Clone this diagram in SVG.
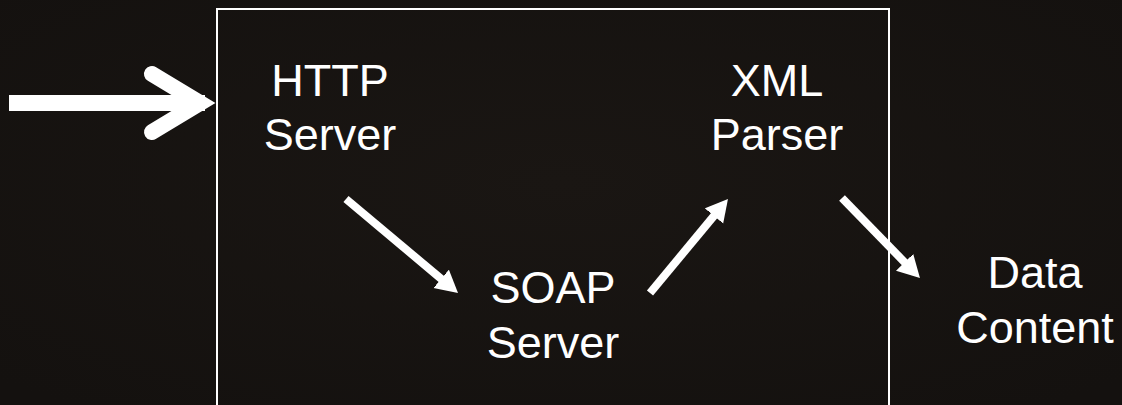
<svg xmlns="http://www.w3.org/2000/svg" width="1122" height="405" viewBox="0 0 1122 405">
  <defs>
    <style>
      .lbl { font-family: "Liberation Sans", Arial, sans-serif; font-size: 45px; fill: #ffffff; text-anchor: middle; }
      .conn { stroke: #ffffff; stroke-width: 8; fill: none; stroke-linecap: butt; }
    </style>
    <marker id="head" markerUnits="userSpaceOnUse" markerWidth="26" markerHeight="26" refX="2" refY="12" orient="auto">
      <path d="M0,0 L22,12 L0,24 z" fill="#ffffff"/>
    </marker>
    <radialGradient id="bg" cx="50%" cy="45%" r="70%">
      <stop offset="0" stop-color="#1a1613"/>
      <stop offset="1" stop-color="#14110f"/>
    </radialGradient>
  </defs>
  <rect x="0" y="0" width="1122" height="405" fill="url(#bg)"/>

  <g id="frame">
    <rect x="217" y="9" width="672" height="420" fill="none" stroke="#ffffff" stroke-width="2"/>
  </g>

  <g id="connectors">
    <g id="input-arrow" stroke="#ffffff" fill="none" stroke-width="16">
      <line x1="9" y1="103" x2="205" y2="103" stroke-linecap="butt"/>
      <polyline points="152,74 200,103 152,132" stroke-linejoin="miter" stroke-linecap="round"/>
    </g>
    <line class="conn" x1="346" y1="199" x2="442.7" y2="280.1" marker-end="url(#head)"/>
    <line class="conn" x1="650" y1="293" x2="715.2" y2="214.4" marker-end="url(#head)"/>
    <line class="conn" x1="842" y1="198" x2="906" y2="263.7" marker-end="url(#head)"/>
  </g>

  <g id="http-server">
    <text class="lbl" x="330" y="96">HTTP</text>
    <text class="lbl" x="330" y="150">Server</text>
  </g>
  <g id="xml-parser">
    <text class="lbl" x="777" y="96">XML</text>
    <text class="lbl" x="777" y="150">Parser</text>
  </g>
  <g id="soap-server">
    <text class="lbl" x="553" y="303">SOAP</text>
    <text class="lbl" x="553" y="358">Server</text>
  </g>
  <g id="data-content">
    <text class="lbl" x="1035" y="288">Data</text>
    <text class="lbl" x="1035" y="343">Content</text>
  </g>
</svg>
